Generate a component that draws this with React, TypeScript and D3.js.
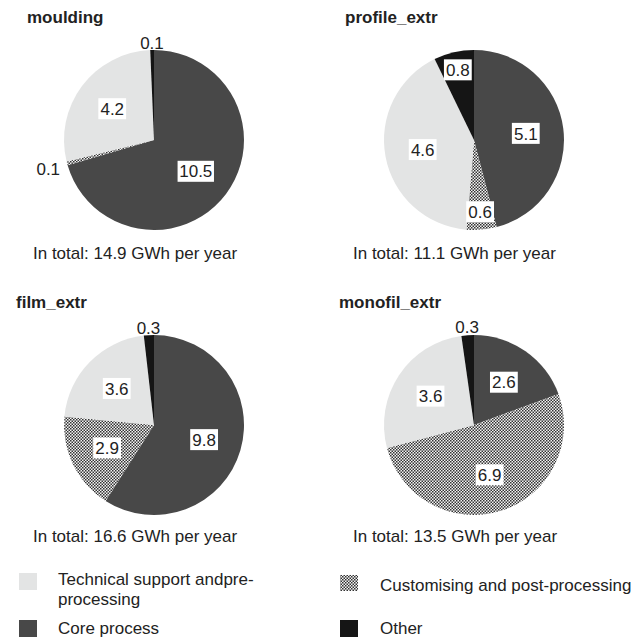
import React from "react";
import * as d3 from "d3";

const chartNames = ["moulding", "profile_extr", "film_extr", "monofil_extr"];
const totals = [14.9, 11.1, 16.6, 13.5];
const categories = [
  "Core process",
  "Customising and post-processing",
  "Technical support andpre-processing",
  "Other",
];
const coreValues = [10.5, 5.1, 9.8, 2.6];
const customisingValues = [0.1, 0.6, 2.9, 6.9];
const technicalValues = [4.2, 4.6, 3.6, 3.6];
const otherValues = [0.1, 0.8, 0.3, 0.3];

const W = 636;
const H = 638;
const R = 90;
const centersX = [154, 474, 154, 474];
const centersY = [140, 140, 425, 425];
const titleX = [27, 345, 16, 339];
const titleY = [23, 23, 308, 308];
const subX = [33, 353, 33, 353];
const subY = [259, 259, 542, 542];

const FONT = "'Liberation Sans', Arial, sans-serif";
const TXT = "#222";

const fills = ["#484848", "url(#checker)", "#e3e4e4", "#151515"];

function Pie({ idx }: { idx: number }) {
  const values = [
    coreValues[idx],
    customisingValues[idx],
    technicalValues[idx],
    otherValues[idx],
  ];
  const sum = d3.sum(values);
  const pie = d3.pie<number>().sort(null).value((d) => d);
  const arcs = pie(values);
  const arc = d3.arc<d3.PieArcDatum<number>>().innerRadius(0).outerRadius(R);
  const cx = centersX[idx];
  const cy = centersY[idx];
  return (
    <g>
      <text x={titleX[idx]} y={titleY[idx]} fontFamily={FONT} fontSize={17} fontWeight="bold" fill={TXT}>
        {chartNames[idx]}
      </text>
      <g transform={`translate(${cx},${cy})`}>
        {arcs.map((a, i) => (
          <path key={i} d={arc(a) || ""} fill={fills[i]} />
        ))}
        {arcs.map((a, i) => {
          const frac = a.value / sum;
          const mid = (a.startAngle + a.endAngle) / 2;
          const label = d3.format(".1f")(a.value);
          if (frac < 0.03) {
            const dist = R + 7 + Math.abs(Math.sin(mid)) * 13;
            const x = Math.sin(mid) * dist;
            const y = -Math.cos(mid) * dist;
            return (
              <text key={"l" + i} x={x} y={y} dy="0.36em" textAnchor="middle" fontFamily={FONT} fontSize={17} fill={TXT}>
                {label}
              </text>
            );
          }
          const rf = frac < 0.1 ? 0.8 : 0.58;
          const x = Math.sin(mid) * R * rf;
          const y = -Math.cos(mid) * R * rf;
          const tw = label.length * 8.6 - 2;
          return (
            <g key={"l" + i}>
              <rect x={x - tw / 2 - 2} y={y - 10.5} width={tw + 4} height={21} fill="#fff" />
              <text x={x} y={y} dy="0.36em" textAnchor="middle" fontFamily={FONT} fontSize={17} fill={TXT}>
                {label}
              </text>
            </g>
          );
        })}
      </g>
      <text x={subX[idx]} y={subY[idx]} fontFamily={FONT} fontSize={17} fill={TXT}>
        {`In total: ${d3.format(".1f")(totals[idx])} GWh per year`}
      </text>
    </g>
  );
}

export default function App() {
  return (
    <div style={{ position: "absolute", left: 0, top: 0 }}>
      <svg width={W} height={H} style={{ display: "block", background: "#fff" }}>
        <defs>
          <pattern id="checker" width={3} height={3} patternUnits="userSpaceOnUse">
            <rect width={3} height={3} fill="#f4f4f4" />
            <rect x={0} y={0} width={1.5} height={1.5} fill="#333" />
            <rect x={1.5} y={1.5} width={1.5} height={1.5} fill="#333" />
          </pattern>
        </defs>
        {chartNames.map((_, i) => (
          <Pie key={i} idx={i} />
        ))}
        {/* legend */}
        <g fontFamily={FONT} fontSize={17} fill={TXT}>
          <rect x={19} y={573} width={18} height={17} fill={fills[2]} />
          <text x={58} y={585}>Technical support andpre-</text>
          <text x={58} y={605}>processing</text>
          <rect x={19} y={620} width={18} height={17} fill={fills[0]} />
          <text x={58} y={634}>{categories[0]}</text>
          <rect x={340} y={575} width={18} height={16} fill={fills[1]} />
          <text x={380} y={591}>{categories[1]}</text>
          <rect x={340} y={620} width={18} height={17} fill={fills[3]} />
          <text x={380} y={634}>{categories[3]}</text>
        </g>
      </svg>
    </div>
  );
}
